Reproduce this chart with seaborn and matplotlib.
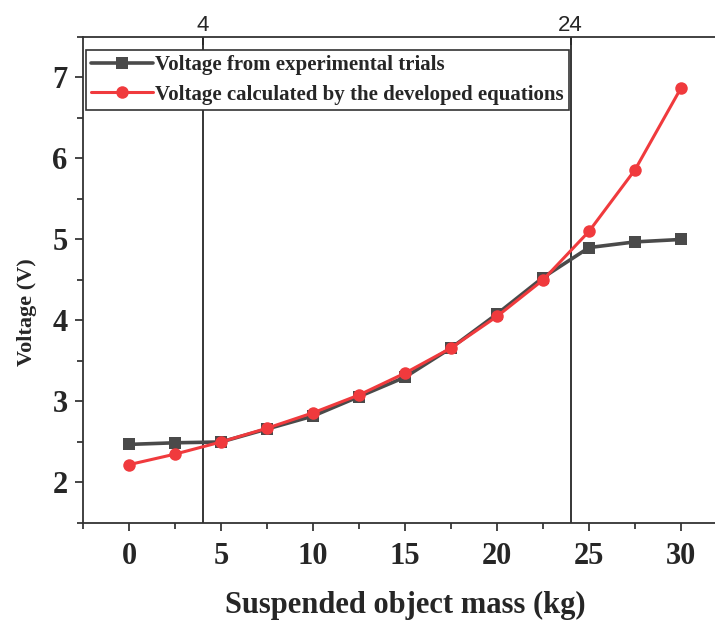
import pandas as pd
import matplotlib
matplotlib.use("Agg")
import matplotlib.pyplot as plt
import seaborn as sns
from matplotlib.ticker import MultipleLocator

# data
mass = [0, 2.5, 5, 7.5, 10, 12.5, 15, 17.5, 20, 22.5, 25, 27.5, 30]
v_experimental = [2.47, 2.49, 2.50, 2.66, 2.82, 3.06, 3.30, 3.66, 4.08, 4.53, 4.90, 4.97, 5.00]
v_equations = [2.22, 2.35, 2.50, 2.67, 2.86, 3.08, 3.35, 3.66, 4.05, 4.50, 5.10, 5.86, 6.87]
series_names = ["Voltage from experimental trials",
                "Voltage calculated by the developed equations"]
top_ticks = [4, 24]

sns.set_style("ticks")
plt.rcParams["font.family"] = ["Liberation Serif", "DejaVu Serif"]
plt.rcParams["font.weight"] = "bold"

fig = plt.figure(figsize=(7.15, 6.22), dpi=100)
ax = fig.add_axes([0.1161, 0.1592, 0.9007, 0.7814])

sns.lineplot(x=mass, y=v_experimental, ax=ax, color="#4a4a4a", marker="s",
             markersize=9, markeredgewidth=0, linewidth=2.6, label=series_names[0])
sns.lineplot(x=mass, y=v_equations, ax=ax, color="#f03a3d", marker="o",
             markersize=9, markeredgewidth=0, linewidth=2.2, label=series_names[1])

for xv in top_ticks:
    ax.axvline(xv, color="black", linewidth=1.1, zorder=0)

ax.set_xlim(-2.5, 32.5)
ax.set_ylim(1.5, 7.5)
ax.xaxis.set_major_locator(MultipleLocator(5))
ax.xaxis.set_minor_locator(MultipleLocator(2.5))
ax.yaxis.set_major_locator(MultipleLocator(1))
ax.yaxis.set_minor_locator(MultipleLocator(0.5))
ax.tick_params(which="major", direction="out", length=6, width=1.2, labelsize=22)
ax.tick_params(which="minor", direction="out", length=4, width=1.2)
ax.tick_params(axis="x", which="major", pad=8)
ax.tick_params(axis="y", which="major", pad=5)
for lab in ax.get_xticklabels() + ax.get_yticklabels():
    lab.set_fontweight("bold")

for side in ["left", "bottom", "top", "right"]:
    ax.spines[side].set_visible(True)
    ax.spines[side].set_linewidth(1.3)
    ax.spines[side].set_color("#333333")

ax.set_xlabel("Suspended object mass (kg)", fontsize=22, fontweight="bold", labelpad=14)
ax.set_ylabel("Voltage (V)", fontsize=16, fontweight="bold")
ax.yaxis.set_label_coords(-0.072, 0.434)

top = ax.secondary_xaxis("top")
top.set_xticks(top_ticks)
top.set_xticklabels([str(t) for t in top_ticks], family=["Liberation Sans", "DejaVu Sans"],
                    fontweight="normal", fontsize=16)
top.tick_params(direction="in", length=6, width=1.2, pad=1)
top.spines["top"].set_visible(False)

leg = ax.legend(loc="upper left", bbox_to_anchor=(0.004, 0.973), borderaxespad=0,
                fancybox=False, frameon=True, edgecolor="#333333", framealpha=1,
                prop={"family": ["Liberation Serif", "DejaVu Serif"], "weight": "bold", "size": 15},
                handlelength=3.0, handletextpad=0.1, borderpad=0.25, labelspacing=0.45)
leg.get_frame().set_linewidth(1.2)

fig.savefig("out.png", dpi=100)
